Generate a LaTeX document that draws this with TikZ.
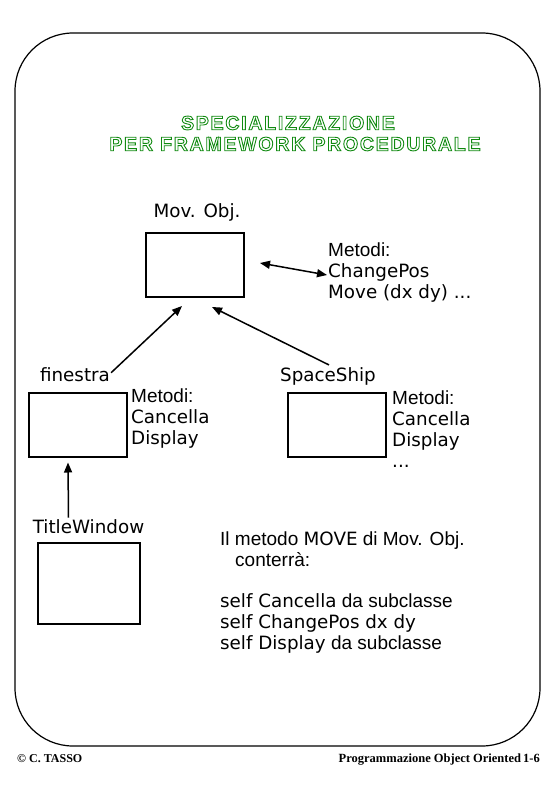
\documentclass[tikz,border=0pt]{standalone}
\usepackage{fontspec}
\setmainfont{DejaVu Sans}
\newfontfamily\thinfont{Liberation Sans}
\newfontfamily\footfont{Liberation Serif}
\newfontfamily\titlefont[LetterSpace=9]{Liberation Sans}
\usetikzlibrary{arrows.meta,positioning}
\definecolor{titlegreen}{HTML}{118A11}
\newcommand{\outlined}[1]{\special{pdf:literal direct 1 Tr 0.9 w}#1\special{pdf:literal direct 0 Tr}}
\tikzset{
  classbox/.style={draw, line width=2pt, minimum width=98pt, minimum height=64pt, inner sep=0pt},
  classname/.style={inner sep=0pt, font=\fontsize{18.3}{21}\selectfont},
  methods/.style={align=left, inner sep=0pt, anchor=north west, font=\fontsize{18.3}{21}\selectfont},
  arrow/.style={-{Triangle[length=10pt,width=8pt]}, line width=1.5pt},
  titletext/.style={inner sep=0pt, text=titlegreen, font=\titlefont\bfseries\fontsize{19.5}{21}\selectfont}
}
\newcommand{\thin}{\thinfont\fontsize{19}{21}\selectfont}

\begin{document}
\begin{tikzpicture}[x=1pt, y=-1pt]
  \useasboundingbox (0,0) rectangle (556,812);
  % frame
  \draw[line width=1.2pt, rounded corners=58pt] (15,33) rectangle (540,746);

  % title
  \node[titletext] (title1) at (288,123) {\outlined{SPECIALIZZAZIONE}};
  \node[titletext] (title2) at (295,144) {\outlined{PER FRAMEWORK PROCEDURALE}};

  % classes
  \node[classbox] (movobj) at (195,265) {};
  \node[classname] (movlbl) at (197,212) {Mov. Obj.};
  \node[classbox] (finestra) at (78,424.5) {};
  \node[classname] (finlbl) at (75,375) {finestra};
  \node[classbox] (spaceship) at (337,425) {};
  \node[classname] (shiplbl) at (328,376) {SpaceShip};
  \node[classbox, minimum width=102pt, minimum height=81pt] (titlewin) at (89,583.5) {};
  \node[classname] (titlelbl) at (88.5,527) {TitleWindow};

  % methods
  \node[methods] (movmeth) at (328,243) {{\thin Metodi:}\\ChangePos\\Move (dx dy) ...};
  \node[methods] (finmeth) at (131,389) {{\thin Metodi:}\\Cancella\\Display};
  \node[methods] (shipmeth) at (392,391) {{\thin Metodi:}\\Cancella\\Display\\...};
  \coordinate (cpos) at ([shift={(-1,32)}]movmeth.north west);

  % connectors
  \draw[arrow] ([shift={(1,5)}]finlbl.north east) -- ([shift={(-13,8)}]movobj.south);
  \draw[arrow] ([shift={(1,-2)}]shiplbl.north) -- ([shift={(17,9)}]movobj.south);
  \draw[arrow] ([shift={(-20,-2)}]titlelbl.north) -- ([shift={(-10,5)}]finestra.south);
  \draw[arrow, {Triangle[length=10pt,width=8pt]}-{Triangle[length=10pt,width=8pt]}] ([shift={(15,-2)}]movobj.east) -- (cpos);

  % MOVE body
  \node[methods] (movebody) at (220,532) {{\thin Il metodo }MOVE{\thin\ di Mov. Obj.}\\
    \hspace*{15pt}{\thin conterrà:}\\[20pt]
    self Cancella{\thin\ da subclasse}\\
    self ChangePos dx dy\\
    self Display{\thin\ da subclasse}};

  % footer
  \node[inner sep=0pt, anchor=base west, font=\footfont\bfseries\fontsize{12}{12}\selectfont] (author) at (17,762) {© C. TASSO};
  \node[inner sep=0pt, anchor=base east, font=\footfont\bfseries\fontsize{12.5}{12}\selectfont] (pageinfo) at (540,762) {Programmazione Object Oriented\,1-6};
\end{tikzpicture}
\end{document}
